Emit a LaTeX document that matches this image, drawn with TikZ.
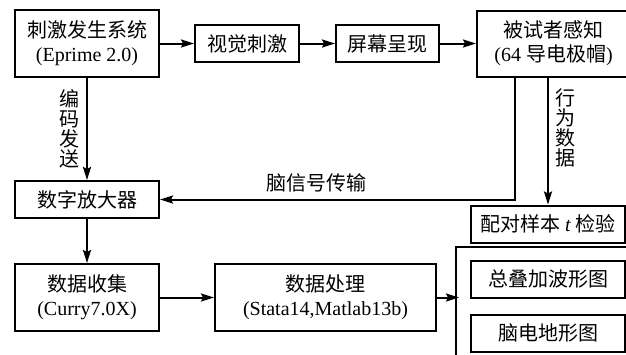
\documentclass[tikz,border=0pt]{standalone}
\usepackage{fontspec}
\setmainfont{Liberation Serif}
\newfontfamily\cjk{Noto Sans CJK SC}
\usetikzlibrary{positioning, arrows.meta}
\tikzstyle{tallbox} = [rectangle, minimum width=72pt, minimum height=33.5pt, text centered, align=center, draw=black, line width=1pt]
\tikzstyle{flatbox} = [rectangle, minimum height=18.5pt, text centered, draw=black, line width=1pt]
\tikzstyle{vlabel} = [align=center, font={\cjk\fontsize{10pt}{10pt}\selectfont}]
\tikzstyle{arrow} = [line width=1pt,->,>={Stealth[length=6.5pt,width=4pt,inset=1pt]}]

\begin{document}
\begin{tikzpicture}[node distance=17.5pt]

    \useasboundingbox (0,0) rectangle (313pt,-177pt);

    \node (stimSystem) [tallbox] at (43.5pt,-21.75pt) {{\cjk 刺激发生系统}\\(Eprime 2.0)};
    \node (visualStim) [flatbox, minimum width=52pt, right=17pt of stimSystem, font=\cjk] {视觉刺激};
    \node (screenShow) [flatbox, minimum width=51.5pt, right=17.5pt of visualStim, font=\cjk] {屏幕呈现};
    \node (subjectSense) [tallbox, minimum width=76.5pt, minimum height=33pt, right=18pt of screenShow] {{\cjk 被试者感知}\\(64 {\cjk 导电极帽})};
    \node (digitalAmp) [flatbox, minimum width=72pt, below=51pt of stimSystem, font=\cjk] {数字放大器};
    \node (dataCollect) [tallbox, below=22pt of digitalAmp] {{\cjk 数据收集}\\(Curry7.0X)};
    \node (dataProcess) [tallbox, minimum width=110.5pt, right=27pt of dataCollect] {{\cjk 数据处理}\\(Stata14,Matlab13b)};
    \node (pairedTest) [flatbox, minimum width=77pt, below=63.5pt of subjectSense, xshift=-2.75pt] {{\cjk 配对样本} \textit{t} {\cjk 检验}};
    \node (erpWave) [flatbox, minimum width=77pt, below=8pt of pairedTest, font=\cjk] {总叠加波形图};
    \node (brainMap) [flatbox, minimum width=77pt, below=7.5pt of erpWave, font=\cjk] {脑电地形图};
    \coordinate (panelIn) at ([xshift=11pt]dataProcess.east);

    % open panel round the two result maps
    \draw [line width=1pt] (314pt,-123.5pt) -| (228pt,-178pt);

    \draw [arrow] (stimSystem) -- (visualStim);
    \draw [arrow] (visualStim) -- (screenShow);
    \draw [arrow] (screenShow) -- (subjectSense);
    \draw [arrow] (stimSystem) -- node[vlabel, left] {编\\码\\发\\送} (digitalAmp);
    \draw [arrow] ([xshift=-19.25pt]subjectSense.south) |- node[pos=0.78, above, font=\cjk] {脑信号传输} (digitalAmp.east);
    \draw [arrow] (pairedTest.north |- subjectSense.south) -- node[vlabel, right, pos=0.4] {行\\为\\数\\据} (pairedTest.north);
    \draw [arrow] (digitalAmp) -- (dataCollect);
    \draw [arrow] (dataCollect) -- (dataProcess);
    \draw [arrow] (dataProcess.east) -- (panelIn);

\end{tikzpicture}
\end{document}
